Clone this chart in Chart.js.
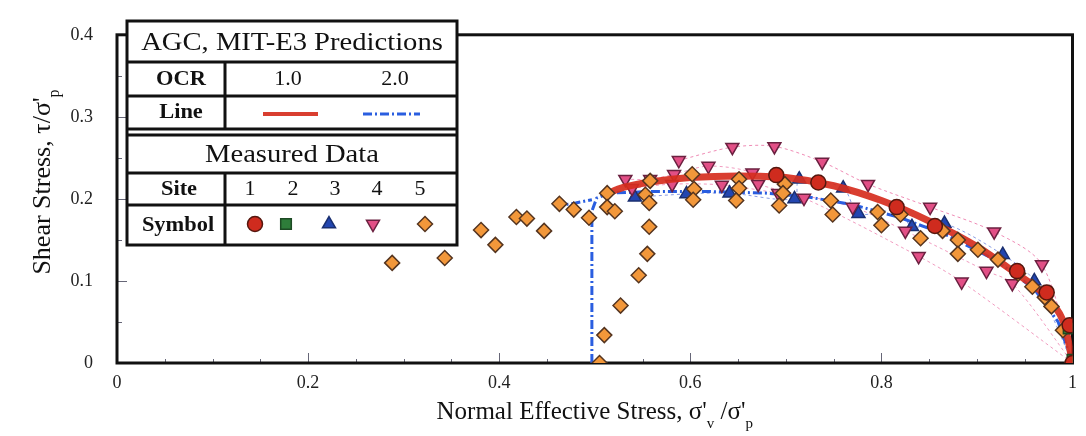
<!DOCTYPE html>
<html>
<head>
<meta charset="utf-8">
<script src="https://cdn.jsdelivr.net/npm/chart.js@4.4.0/dist/chart.umd.min.js"></script>
<style>
  html, body { margin: 0; padding: 0; background: #fff; }
</style>
</head>
<body>
<canvas id="stressChart" width="1086" height="436"></canvas>
<script>
// tick labels
const xTickLabels = ['0', '0.2', '0.4', '0.6', '0.8', '1'];
const yTickLabels = ['0', '0.1', '0.2', '0.3', '0.4'];

// legend text
const ocrValues = ['1.0', '2.0'];
const siteNames = ['1', '2', '3', '4', '5'];

// AGC, MIT-E3 predicted stress paths  [x, y]
const ocr1Line = [[0.51, 0.205], [0.53, 0.214], [0.56, 0.221], [0.6, 0.226], [0.65, 0.228], [0.7, 0.226],
  [0.75, 0.216], [0.8, 0.198], [0.85, 0.173], [0.9, 0.142], [0.94, 0.11], [0.97, 0.084], [0.99, 0.052], [1.0, 0.0]];
const ocr2Line = [[0.497, 0.0], [0.497, 0.185], [0.502, 0.201], [0.515, 0.207], [0.56, 0.209], [0.62, 0.209],
  [0.68, 0.207], [0.72, 0.203], [0.77, 0.193], [0.82, 0.177], [0.87, 0.155], [0.92, 0.125], [0.96, 0.09],
  [0.985, 0.05], [1.0, 0.0]];
const ocr2Spur = [[0.458, 0.191], [0.48, 0.195], [0.497, 0.199]];

// measured data, one array per site  [x, y]
const site1 = [[0.69, 0.229], [0.734, 0.22], [0.816, 0.19], [0.856, 0.167], [0.942, 0.112], [0.973, 0.086],
  [0.997, 0.046], [1.0, 0.0]];
const site2 = [[0.996, 0.042], [1.0, 0.004]];
const site3 = [[0.542, 0.202], [0.596, 0.206], [0.641, 0.207], [0.709, 0.2], [0.714, 0.224], [0.76, 0.213],
  [0.776, 0.182], [0.818, 0.186], [0.832, 0.166], [0.866, 0.17], [0.927, 0.132], [0.96, 0.1]];
const site4Upper = [[0.588, 0.247], [0.644, 0.263], [0.688, 0.264], [0.738, 0.245], [0.786, 0.218],
  [0.851, 0.19], [0.918, 0.16], [0.968, 0.12]];
const site4Middle = [[0.532, 0.224], [0.558, 0.224], [0.583, 0.23], [0.619, 0.24], [0.665, 0.232],
  [0.671, 0.218], [0.77, 0.19], [0.825, 0.161], [0.91, 0.112], [0.937, 0.097]];
const site4Lower = [[0.539, 0.213], [0.581, 0.218], [0.633, 0.217], [0.692, 0.207], [0.719, 0.201],
  [0.839, 0.13], [0.884, 0.099]];
const site5Low = [[0.288, 0.122], [0.343, 0.128], [0.381, 0.162], [0.396, 0.144], [0.418, 0.178],
  [0.429, 0.176], [0.447, 0.161], [0.463, 0.194], [0.478, 0.187], [0.494, 0.177]];
const site5Rise = [[0.505, 0.0], [0.51, 0.034], [0.527, 0.07], [0.546, 0.107], [0.555, 0.133], [0.557, 0.166]];
const site5High = [[0.513, 0.207], [0.513, 0.19], [0.521, 0.185], [0.553, 0.205], [0.557, 0.195], [0.558, 0.222],
  [0.602, 0.23], [0.604, 0.212], [0.603, 0.199], [0.651, 0.224], [0.651, 0.213], [0.648, 0.198],
  [0.699, 0.218], [0.697, 0.207], [0.693, 0.192], [0.747, 0.198], [0.749, 0.181], [0.796, 0.184],
  [0.8, 0.168], [0.82, 0.181], [0.841, 0.152], [0.864, 0.161], [0.88, 0.15], [0.88, 0.133], [0.901, 0.138],
  [0.922, 0.126], [0.943, 0.109], [0.958, 0.093], [0.971, 0.08], [0.978, 0.069], [0.99, 0.04], [1.0, 0.0]];
const pathEnd = [1.0, 0.0];

const SERIF = '"Liberation Serif", "DejaVu Serif", serif';
const toXY = arr => arr.map(p => ({ x: p[0], y: p[1] }));

const colors = {
  site1: ['#cf2b1e', '#55170e'],
  site2: ['#2e7d3a', '#1d4a24'],
  site3: ['#2346b0', '#1a2f70'],
  site4: ['#e24f86', '#6b2140'],
  site5: ['#f2973a', '#553520']
};
const ocr1Color = 'rgba(214,46,30,0.92)';
const ocr2Color = '#2a5ee0';

function markers(label, pts, key, style, rotation, order) {
  return {
    label: label, data: toXY(pts), order: order,
    pointStyle: style, rotation: rotation || 0, pointRadius: 7.5,
    backgroundColor: colors[key][0], borderColor: colors[key][1], borderWidth: 1.5,
    showLine: false
  };
}

function path(pts, color, order) {
  return {
    data: toXY(pts.concat([pathEnd])), order: order, showLine: true, pointRadius: 0,
    borderColor: color, borderWidth: 1, borderDash: [3, 3], tension: 0.3
  };
}

const datasets = [
  markers('Site 1', site1, 'site1', 'circle', 0, 0),
  markers('Site 2', site2, 'site2', 'rect', 0, 1),
  markers('Site 5', site5Low.concat(site5Rise, site5High), 'site5', 'rectRot', 0, 2),
  {
    label: 'OCR 1.0', data: toXY(ocr1Line), order: 3, showLine: true, pointRadius: 0,
    borderColor: ocr1Color, borderWidth: 7, tension: 0.3
  },
  markers('Site 4', site4Upper.concat(site4Middle, site4Lower), 'site4', 'triangle', 180, 4),
  markers('Site 3', site3, 'site3', 'triangle', 0, 5),
  {
    label: 'OCR 2.0', data: toXY(ocr2Line.concat([[NaN, NaN]], ocr2Spur)), order: 6, showLine: true,
    pointRadius: 0, spanGaps: false, borderColor: ocr2Color, borderWidth: 3, borderDash: [9, 3, 2, 3], tension: 0
  },
  path(site4Upper, 'rgba(232,90,150,0.7)', 7),
  path(site4Middle, 'rgba(232,90,150,0.6)', 8),
  path(site4Lower, 'rgba(232,90,150,0.6)', 9),
  path(site3, 'rgba(60,90,210,0.6)', 10)
];

// text pieces with subscripts, centred on x
function richText(ctx, parts, x, y, size) {
  const widths = parts.map(p => {
    ctx.font = (p.sub ? Math.round(size * 0.6) : size) + 'px ' + SERIF;
    return ctx.measureText(p.t).width;
  });
  let cx = x - widths.reduce((a, b) => a + b, 0) / 2;
  parts.forEach((p, i) => {
    ctx.font = (p.sub ? Math.round(size * 0.6) : size) + 'px ' + SERIF;
    ctx.fillText(p.t, cx, p.sub ? y + size * 0.35 : y);
    cx += widths[i];
  });
}

// centred text, slightly widened
function wideText(ctx, text, x, y, font, sx) {
  ctx.save();
  ctx.font = font;
  ctx.translate(x, y);
  ctx.scale(sx, 1);
  ctx.fillText(text, 0, 0);
  ctx.restore();
}

function legendTable(ctx) {
  const L = 127, R = 457, T = 21, B = 245, mid = 225;
  ctx.save();
  ctx.fillStyle = '#fff';
  ctx.fillRect(L, T, R - L, B - T);
  ctx.strokeStyle = '#111';
  ctx.lineWidth = 3;
  ctx.strokeRect(L, T, R - L, B - T);
  ctx.beginPath();
  [62, 96, 129, 135, 173, 205].forEach(yy => { ctx.moveTo(L, yy); ctx.lineTo(R, yy); });
  ctx.moveTo(mid, 62); ctx.lineTo(mid, 129);
  ctx.moveTo(mid, 173); ctx.lineTo(mid, 245);
  ctx.stroke();

  ctx.fillStyle = '#111';
  ctx.textAlign = 'center';
  ctx.textBaseline = 'middle';
  wideText(ctx, 'AGC, MIT-E3 Predictions', 292, 43, '26px ' + SERIF, 1.1);
  wideText(ctx, 'Measured Data', 292, 155, '26px ' + SERIF, 1.1);
  const head = 'bold 20px ' + SERIF;
  wideText(ctx, 'OCR', 181, 80, head, 1.12);
  wideText(ctx, 'Line', 181, 113, head, 1.12);
  wideText(ctx, 'Site', 179, 190, head, 1.12);
  wideText(ctx, 'Symbol', 178, 226, head, 1.12);
  const num = '20px ' + SERIF;
  wideText(ctx, ocrValues[0], 288, 80, num, 1.1);
  wideText(ctx, ocrValues[1], 395, 80, num, 1.1);
  const siteX = [250, 293, 335, 377, 420];
  siteNames.forEach((s, i) => wideText(ctx, s, siteX[i], 190, num, 1.1));

  ctx.lineWidth = 4;
  ctx.strokeStyle = ocr1Color;
  ctx.beginPath(); ctx.moveTo(263, 114); ctx.lineTo(318, 114); ctx.stroke();
  ctx.lineWidth = 3;
  ctx.strokeStyle = ocr2Color;
  ctx.setLineDash([9, 3, 2, 3]);
  ctx.beginPath(); ctx.moveTo(363, 114); ctx.lineTo(420, 114); ctx.stroke();
  ctx.setLineDash([]);

  const symbols = [['circle', 0, 'site1', 255], ['rect', 0, 'site2', 286], ['triangle', 0, 'site3', 329],
    ['triangle', 180, 'site4', 373], ['rectRot', 0, 'site5', 425]];
  symbols.forEach(s => {
    ctx.fillStyle = colors[s[2]][0];
    ctx.strokeStyle = colors[s[2]][1];
    ctx.lineWidth = 1.5;
    Chart.helpers.drawPoint(ctx, { pointStyle: s[0], rotation: s[1], radius: 7.5, borderWidth: 1.5 }, s[3], 224);
  });
  ctx.restore();
}

const frameAndText = {
  id: 'frameAndText',
  beforeDatasetsDraw(chart) {
    const { ctx, chartArea: a, scales: { x, y } } = chart;
    ctx.save();
    ctx.strokeStyle = '#667';
    ctx.lineWidth = 1;
    ctx.beginPath();
    for (let i = 1; i < 20; i++) {
      const px = Math.round(x.getPixelForValue(i * 0.05)) + 0.5;
      const len = i % 4 === 0 ? 10 : 4;
      ctx.moveTo(px, a.bottom); ctx.lineTo(px, a.bottom - len);
    }
    for (let i = 1; i < 8; i++) {
      const py = Math.round(y.getPixelForValue(i * 0.05)) + 0.5;
      const len = i % 2 === 0 ? 10 : 5;
      ctx.moveTo(a.left, py); ctx.lineTo(a.left + len, py);
    }
    ctx.stroke();
    ctx.strokeStyle = '#111';
    ctx.lineWidth = 3;
    ctx.strokeRect(a.left, a.top, a.right - a.left, a.bottom - a.top);
    ctx.restore();
  },
  afterDatasetsDraw(chart) {
    legendTable(chart.ctx);
  },
  afterDraw(chart) {
    const { ctx, chartArea: a } = chart;
    ctx.save();
    ctx.fillStyle = '#111';
    ctx.textAlign = 'left';
    ctx.textBaseline = 'alphabetic';
    richText(ctx, [{ t: 'Normal Effective Stress, σ\'' }, { t: 'v', sub: true }, { t: ' /σ\'' }, { t: 'p', sub: true }],
      (a.left + a.right) / 2, 419, 25);
    ctx.translate(50, 182);
    ctx.rotate(-Math.PI / 2);
    richText(ctx, [{ t: 'Shear Stress, τ/σ\'' }, { t: 'p', sub: true }], 0, 0, 26);
    ctx.restore();
  }
};

const tickFont = { family: SERIF, size: 18 };

new Chart(document.getElementById('stressChart'), {
  type: 'scatter',
  data: { datasets: datasets },
  options: {
    responsive: false,
    animation: false,
    devicePixelRatio: 1,
    layout: { padding: { top: 13, right: 8, left: 0, bottom: 0 } },
    plugins: { legend: { display: false }, tooltip: { enabled: false } },
    scales: {
      x: {
        type: 'linear', min: 0, max: 1,
        grid: { display: false, drawTicks: false },
        border: { display: false },
        ticks: {
          stepSize: 0.2, padding: 9, color: '#222', font: tickFont, maxRotation: 0,
          callback: (v, i) => xTickLabels[i]
        },
        afterFit: s => { s.height = 73; }
      },
      y: {
        type: 'linear', min: 0, max: 0.4,
        grid: { display: false, drawTicks: false },
        border: { display: false },
        ticks: {
          stepSize: 0.1, padding: 24, color: '#222', font: tickFont,
          callback: (v, i) => yTickLabels[i]
        },
        afterFit: s => { s.width = 117; }
      }
    }
  },
  plugins: [frameAndText]
});
</script>
</body>
</html>
